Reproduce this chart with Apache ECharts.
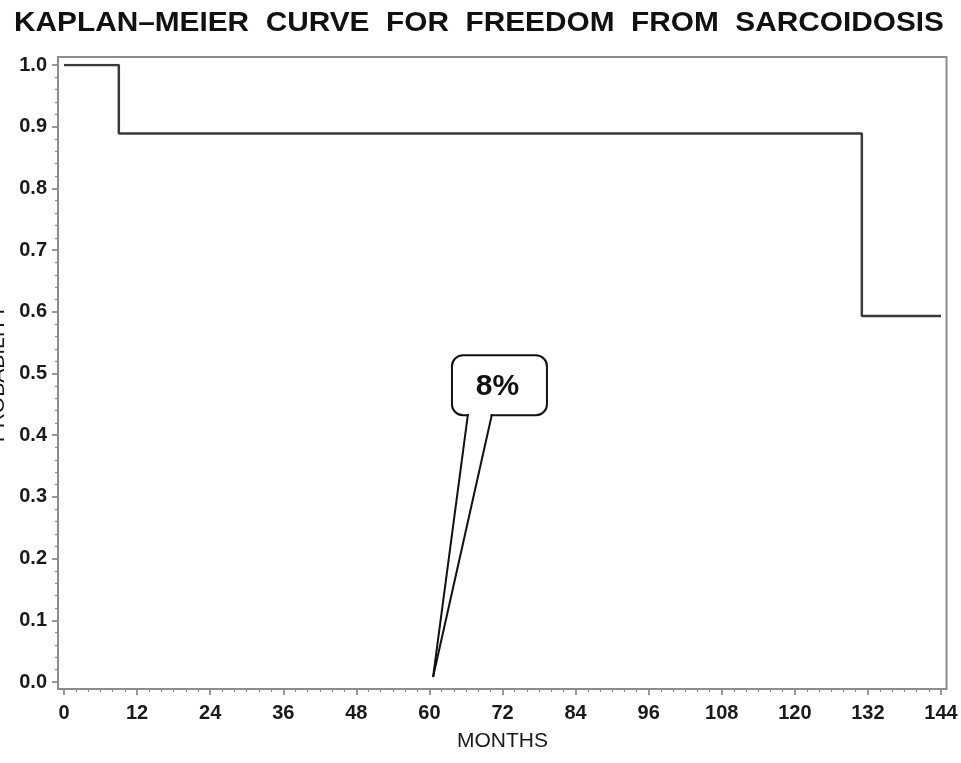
<!DOCTYPE html>
<html>
<head>
<meta charset="utf-8">
<script src="https://cdn.jsdelivr.net/npm/echarts@6/dist/echarts.min.js"></script>
<style>
  html, body { margin: 0; padding: 0; background: #ffffff; }
  #chart { width: 961px; height: 763px; }
</style>
</head>
<body>
<div id="chart"></div>
<script>
// Kaplan–Meier estimate: event times (months) and survival probability after each step
const titleText = 'KAPLAN\u2013MEIER  CURVE  FOR  FREEDOM  FROM  SARCOIDOSIS';
const months = [0, 9, 131, 144];
const freedom = [1.0, 0.889, 0.593, 0.593];

// axis ranges and tick spacing
const monthAxis = { min: 0, max: 144, step: 12 };
const probAxis = { min: 0, max: 1, step: 0.1 };

// callout annotation: text, where its pointer lands, and where its box sits (data units)
const calloutText = '8%';
const calloutTip = [60.6, 0.008];
const calloutBox = [71.5, 0.481];

const FONT = '"Liberation Sans", Arial, Helvetica, sans-serif';
const chart = echarts.init(document.getElementById('chart'), null, { renderer: 'canvas' });

const curve = months.map((m, i) => [m, freedom[i]]);

chart.setOption({
  animation: false,
  backgroundColor: '#ffffff',
  grid: { left: 64, right: 20, top: 65, bottom: 81, containLabel: false, outerBoundsMode: 'none' },
  xAxis: {
    type: 'value',
    min: monthAxis.min,
    max: monthAxis.max,
    interval: monthAxis.step,
    offset: 7,
    axisLine: { show: false, onZero: false },
    axisTick: { show: true, length: 6, lineStyle: { color: '#777', width: 1.5 } },
    minorTick: { show: true, splitNumber: 6, length: 3, lineStyle: { color: '#888', width: 1.2 } },
    splitLine: { show: false },
    axisLabel: { fontFamily: FONT, fontSize: 20, fontWeight: 'bold', color: '#1a1a1a', margin: 14 },
    name: 'MONTHS',
    nameLocation: 'middle',
    nameGap: 42,
    nameTextStyle: { fontFamily: FONT, fontSize: 21, color: '#1a1a1a' }
  },
  yAxis: {
    type: 'value',
    min: probAxis.min,
    max: probAxis.max,
    interval: probAxis.step,
    offset: 6,
    axisLine: { show: false, onZero: false },
    axisTick: { show: true, length: 6, lineStyle: { color: '#777', width: 1.5 } },
    minorTick: { show: true, splitNumber: 5, length: 3, lineStyle: { color: '#888', width: 1.2 } },
    splitLine: { show: false },
    axisLabel: {
      fontFamily: FONT, fontSize: 20, fontWeight: 'bold', color: '#1a1a1a', margin: 11,
      formatter: v => v.toFixed(1)
    },
    name: 'PROBABILITY',
    nameLocation: 'middle',
    nameGap: 47,
    nameTextStyle: { fontFamily: FONT, fontSize: 21, color: '#1a1a1a' }
  },
  series: [{
    type: 'line',
    step: 'end',
    data: curve,
    symbol: 'none',
    lineStyle: { color: '#3a3a3a', width: 2.5 },
    z: 3
  }]
});

// plot frame, title and callout placed through the axes' scales
function decorate() {
  const p00 = chart.convertToPixel({ gridIndex: 0 }, [monthAxis.min, probAxis.min]);
  const p11 = chart.convertToPixel({ gridIndex: 0 }, [monthAxis.max, probAxis.max]);
  const fx0 = p00[0] - 6, fx1 = p11[0] + 5.5, fy0 = p11[1] - 8, fy1 = p00[1] + 7;

  // title, stretched to span the page width
  const ctx = document.createElement('canvas').getContext('2d');
  const titleFont = 'bold 28px ' + FONT;
  ctx.font = titleFont;
  const tw = ctx.measureText(titleText).width;
  const titleScale = 930 / tw;

  const tip = chart.convertToPixel({ gridIndex: 0 }, calloutTip);
  const box = chart.convertToPixel({ gridIndex: 0 }, calloutBox);
  const bw = 95, bh = 60;
  const bx = box[0] - bw / 2, by = box[1] - bh / 2;
  const baseL = bx + 16, baseR = bx + 40, baseY = by + bh;

  chart.setOption({
    graphic: [
      {
        type: 'rect', z: 1, silent: true,
        shape: { x: fx0, y: fy0, width: fx1 - fx0, height: fy1 - fy0 },
        style: { fill: null, stroke: '#8c8c8c', lineWidth: 2 }
      },
      {
        type: 'text', z: 5, silent: true,
        x: 14, y: 9, scaleX: titleScale, scaleY: 1.02,
        style: { text: titleText, font: titleFont, fill: '#111', textAlign: 'left', textVerticalAlign: 'top' }
      },
      {
        type: 'rect', z: 10, silent: true,
        shape: { x: bx, y: by, width: bw, height: bh, r: 11 },
        style: { fill: '#fff', stroke: '#111', lineWidth: 2 }
      },
      {
        type: 'polygon', z: 11, silent: true,
        shape: { points: [[baseL + 1, baseY - 2], [tip[0], tip[1]], [baseR - 1, baseY - 2]] },
        style: { fill: '#fff', stroke: null }
      },
      {
        type: 'polyline', z: 12, silent: true,
        shape: { points: [[baseL, baseY - 1], [tip[0], tip[1]]] },
        style: { stroke: '#111', lineWidth: 2, fill: null }
      },
      {
        type: 'polyline', z: 12, silent: true,
        shape: { points: [[baseR, baseY - 1], [tip[0], tip[1]]] },
        style: { stroke: '#111', lineWidth: 2, fill: null }
      },
      {
        type: 'text', z: 13, silent: true,
        x: bx + bw / 2 - 2, y: by + bh / 2 + 2,
        style: {
          text: calloutText, font: 'bold 30px ' + FONT, fill: '#111',
          textAlign: 'center', textVerticalAlign: 'middle'
        }
      }
    ]
  });
}
decorate();
</script>
</body>
</html>
